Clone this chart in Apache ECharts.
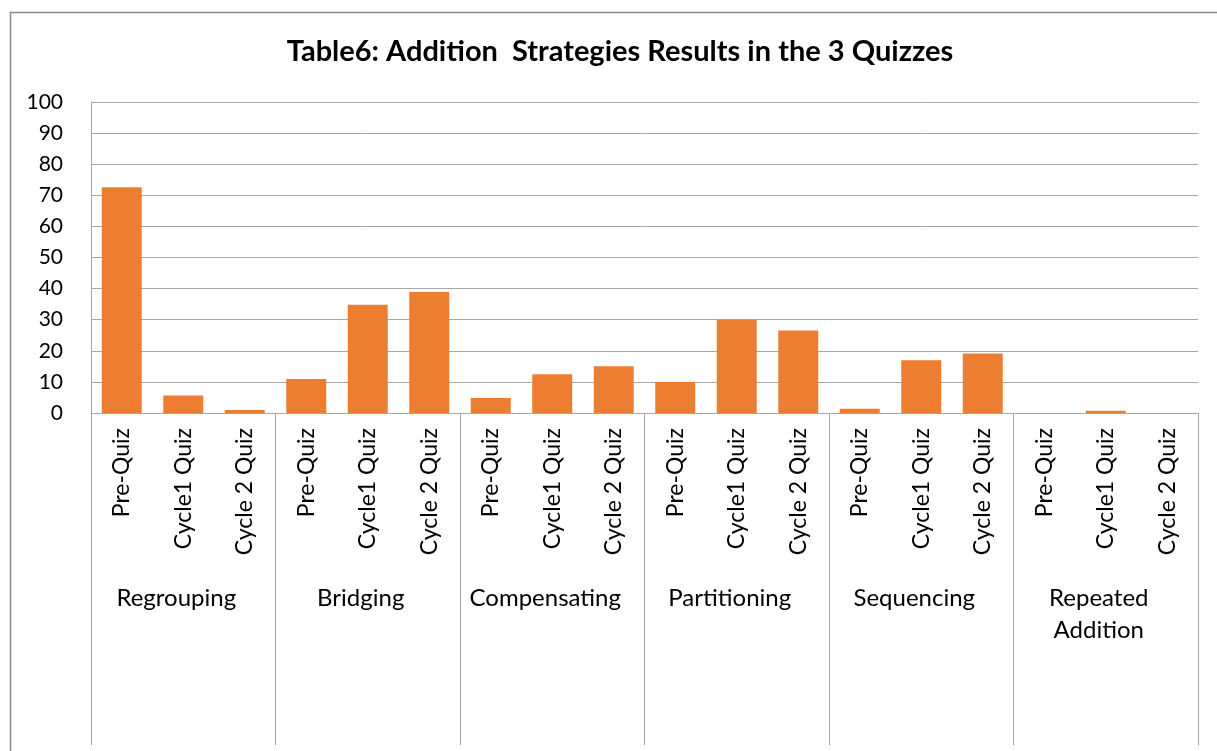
<!DOCTYPE html>
<html>
<head>
<meta charset="utf-8">
<script src="https://cdn.jsdelivr.net/npm/echarts@6/dist/echarts.min.js"></script>
<style>
html,body{margin:0;padding:0;background:#fff;}
#chart{width:1217px;height:751px;}
</style>
</head>
<body>
<div id="chart"></div>
<script>
const titleText = 'Table6: Addition  Strategies Results in the 3 Quizzes';
const strategies = ['Regrouping', 'Bridging', 'Compensating', 'Partitioning', 'Sequencing', 'Repeated\nAddition'];
const quizzes = ['Pre-Quiz', 'Cycle1 Quiz', 'Cycle 2 Quiz'];
const preQuiz = [72.6, 10.9, 4.8, 10.0, 1.4, 0];
const cycle1Quiz = [5.6, 34.8, 12.5, 30.0, 17.0, 0.7];
const cycle2Quiz = [1.0, 38.9, 15.0, 26.5, 19.1, 0];
const yTicks = {min: 0, max: 100, interval: 10};

const categories = [];
const values = [];
strategies.forEach((s, i) => {
  categories.push(quizzes[0], quizzes[1], quizzes[2]);
  values.push(preQuiz[i], cycle1Quiz[i], cycle2Quiz[i]);
});

const FONT = 'Lato, "Open Sans", sans-serif';
const chart = echarts.init(document.getElementById('chart'), null, {renderer: 'canvas'});
chart.setOption({
  backgroundColor: '#ffffff',
  animation: false,
  graphic: [{
    type: 'rect', left: 8, top: 10, z: -10, silent: true,
    shape: {x: 0, y: 0, width: 1300, height: 900},
    style: {fill: 'none', stroke: '#8c8c8c', lineWidth: 1.5}
  }],
  title: {
    text: titleText,
    left: 615, top: 32, textAlign: 'center',
    textStyle: {fontFamily: FONT, fontWeight: 'bold', fontSize: 29, color: '#000'}
  },
  grid: {left: 91, right: 19, top: 102, bottom: 338, containLabel: false},
  xAxis: [{
    type: 'category',
    data: categories,
    position: 'bottom',
    axisLine: {show: true, lineStyle: {color: '#a6a6a6', width: 1}},
    axisTick: {show: false},
    axisLabel: {
      interval: 0, rotate: 90, margin: 15,
      fontFamily: FONT, fontSize: 23, color: '#000'
    },
    splitLine: {show: false}
  }, {
    type: 'category',
    data: strategies,
    position: 'bottom',
    axisLine: {show: false},
    axisTick: {show: true, length: 332, interval: 0, lineStyle: {color: '#a6a6a6', width: 1}},
    axisLabel: {
      interval: 0, margin: 169, padding: [0, 14, 0, 0],
      fontFamily: FONT, fontSize: 24, lineHeight: 32, color: '#000'
    },
    splitLine: {show: false}
  }],
  yAxis: {
    type: 'value',
    min: yTicks.min, max: yTicks.max, interval: yTicks.interval,
    axisLine: {show: true, lineStyle: {color: '#a6a6a6', width: 1}},
    axisTick: {show: false},
    axisLabel: {margin: 28, fontFamily: FONT, fontSize: 21, color: '#000'},
    splitLine: {show: true, lineStyle: {color: '#a6a6a6', width: 1}}
  },
  series: [{
    type: 'bar',
    xAxisIndex: 0,
    data: values,
    barCategoryGap: '35%',
    itemStyle: {color: '#ED7D31'}
  }]
});
</script>
</body>
</html>
